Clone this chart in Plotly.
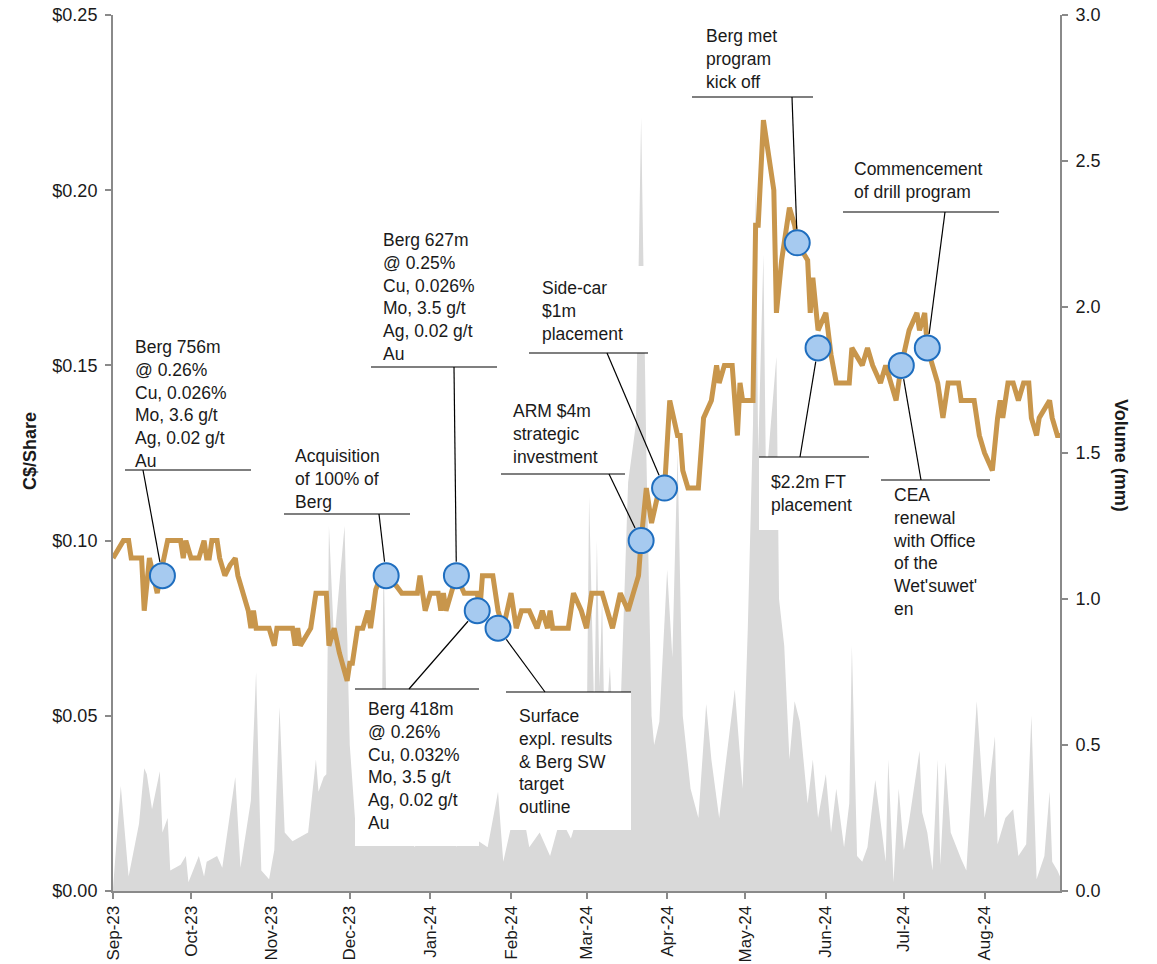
import plotly.graph_objects as go
import pandas as pd

# ---------------- data ----------------
price_dates = [
    "2023-09-01", "2023-09-05", "2023-09-07", "2023-09-08", "2023-09-12", "2023-09-13", "2023-09-15",
    "2023-09-18", "2023-09-20", "2023-09-22", "2023-09-27", "2023-09-28", "2023-09-29", "2023-10-01",
    "2023-10-04", "2023-10-06", "2023-10-07", "2023-10-08", "2023-10-09", "2023-10-11", "2023-10-12",
    "2023-10-14", "2023-10-16", "2023-10-18", "2023-10-19", "2023-10-21", "2023-10-23", "2023-10-24",
    "2023-10-25", "2023-10-26", "2023-10-31", "2023-11-02", "2023-11-03", "2023-11-09", "2023-11-10",
    "2023-11-11", "2023-11-12", "2023-11-16", "2023-11-18", "2023-11-22", "2023-11-23", "2023-11-25",
    "2023-11-27", "2023-11-30", "2023-12-01", "2023-12-02", "2023-12-04", "2023-12-06", "2023-12-08",
    "2023-12-09", "2023-12-10", "2023-12-11", "2023-12-13", "2023-12-15", "2023-12-19", "2023-12-21",
    "2023-12-27", "2023-12-28", "2023-12-30", "2024-01-01", "2024-01-04", "2024-01-05", "2024-01-06",
    "2024-01-07", "2024-01-09", "2024-01-11", "2024-01-14", "2024-01-19", "2024-01-20", "2024-01-21",
    "2024-01-25", "2024-01-27", "2024-01-29", "2024-02-01", "2024-02-03", "2024-02-05", "2024-02-08",
    "2024-02-11", "2024-02-13", "2024-02-15", "2024-02-16", "2024-02-17", "2024-02-23", "2024-02-25",
    "2024-02-28", "2024-03-01", "2024-03-03", "2024-03-07", "2024-03-09", "2024-03-11", "2024-03-14",
    "2024-03-17", "2024-03-19", "2024-03-21", "2024-03-22", "2024-03-24", "2024-03-26", "2024-03-29",
    "2024-03-31", "2024-04-02", "2024-04-05", "2024-04-06", "2024-04-07", "2024-04-09", "2024-04-13",
    "2024-04-15", "2024-04-18", "2024-04-20", "2024-04-21", "2024-04-23", "2024-04-26", "2024-04-28",
    "2024-04-29", "2024-04-30", "2024-05-04", "2024-05-05", "2024-05-06", "2024-05-08", "2024-05-12",
    "2024-05-13", "2024-05-15", "2024-05-18", "2024-05-20", "2024-05-21", "2024-05-25", "2024-05-26",
    "2024-05-27", "2024-05-29", "2024-06-01", "2024-06-03", "2024-06-05", "2024-06-10", "2024-06-11",
    "2024-06-15", "2024-06-17", "2024-06-19", "2024-06-22", "2024-06-24", "2024-06-28", "2024-06-30",
    "2024-07-03", "2024-07-06", "2024-07-07", "2024-07-09", "2024-07-10", "2024-07-12", "2024-07-14",
    "2024-07-16", "2024-07-18", "2024-07-22", "2024-07-23", "2024-07-28", "2024-07-30", "2024-08-01",
    "2024-08-04", "2024-08-06", "2024-08-07", "2024-08-08", "2024-08-10", "2024-08-12", "2024-08-14",
    "2024-08-16", "2024-08-18", "2024-08-19", "2024-08-21", "2024-08-22", "2024-08-26", "2024-08-27",
    "2024-08-29", "2024-08-30",
]
price_vals = [
    0.095, 0.100, 0.100, 0.095, 0.095, 0.080, 0.095,
    0.085, 0.093, 0.100, 0.100, 0.095, 0.100, 0.095,
    0.095, 0.100, 0.095, 0.095, 0.100, 0.100, 0.095,
    0.090, 0.093, 0.095, 0.090, 0.085, 0.080, 0.075,
    0.080, 0.075, 0.075, 0.070, 0.075, 0.075, 0.070,
    0.075, 0.070, 0.075, 0.085, 0.085, 0.070, 0.075,
    0.068, 0.060, 0.065, 0.065, 0.075, 0.075, 0.080,
    0.075, 0.080, 0.086, 0.090, 0.090, 0.087, 0.085,
    0.085, 0.090, 0.080, 0.085, 0.085, 0.080, 0.085,
    0.080, 0.085, 0.090, 0.085, 0.085, 0.080, 0.090,
    0.090, 0.080, 0.075, 0.085, 0.075, 0.080, 0.080,
    0.075, 0.080, 0.075, 0.080, 0.075, 0.075, 0.085,
    0.080, 0.075, 0.085, 0.085, 0.080, 0.075, 0.085,
    0.080, 0.085, 0.090, 0.100, 0.115, 0.105, 0.115,
    0.115, 0.140, 0.130, 0.130, 0.120, 0.115, 0.115,
    0.135, 0.140, 0.150, 0.145, 0.150, 0.150, 0.130,
    0.145, 0.140, 0.140, 0.190, 0.190, 0.220, 0.200,
    0.165, 0.180, 0.195, 0.190, 0.185, 0.180, 0.165,
    0.175, 0.160, 0.165, 0.153, 0.145, 0.145, 0.155,
    0.150, 0.155, 0.150, 0.145, 0.150, 0.140, 0.150,
    0.160, 0.165, 0.160, 0.165, 0.155, 0.150, 0.145,
    0.135, 0.145, 0.145, 0.140, 0.140, 0.130, 0.125,
    0.120, 0.135, 0.140, 0.135, 0.145, 0.145, 0.140,
    0.145, 0.145, 0.135, 0.130, 0.135, 0.140, 0.135,
    0.130, 0.130,
]

vol_dates = [
    "2023-09-01", "2023-09-04", "2023-09-07", "2023-09-09", "2023-09-11", "2023-09-13", "2023-09-14",
    "2023-09-16", "2023-09-19", "2023-09-20", "2023-09-22", "2023-09-23", "2023-09-27", "2023-09-29",
    "2023-09-30", "2023-10-04", "2023-10-06", "2023-10-07", "2023-10-11", "2023-10-13", "2023-10-18",
    "2023-10-20", "2023-10-24", "2023-10-26", "2023-10-28", "2023-10-31", "2023-11-02", "2023-11-04",
    "2023-11-06", "2023-11-09", "2023-11-15", "2023-11-18", "2023-11-19", "2023-11-21", "2023-11-22",
    "2023-11-23", "2023-11-25", "2023-11-29", "2023-12-01", "2023-12-03", "2023-12-06", "2023-12-09",
    "2023-12-13", "2023-12-14", "2023-12-16", "2023-12-18", "2023-12-22", "2023-12-26", "2023-12-30",
    "2024-01-03", "2024-01-07", "2024-01-11", "2024-01-14", "2024-01-18", "2024-01-23", "2024-01-27",
    "2024-01-29", "2024-02-01", "2024-02-05", "2024-02-08", "2024-02-12", "2024-02-16", "2024-02-20",
    "2024-02-24", "2024-02-28", "2024-03-01", "2024-03-02", "2024-03-04", "2024-03-05", "2024-03-06",
    "2024-03-07", "2024-03-08", "2024-03-10", "2024-03-12", "2024-03-14", "2024-03-17", "2024-03-20",
    "2024-03-22", "2024-03-24", "2024-03-26", "2024-03-27", "2024-03-29", "2024-04-01", "2024-04-03",
    "2024-04-05", "2024-04-07", "2024-04-10", "2024-04-13", "2024-04-16", "2024-04-18", "2024-04-21",
    "2024-04-23", "2024-04-27", "2024-04-30", "2024-05-02", "2024-05-04", "2024-05-05", "2024-05-06",
    "2024-05-08", "2024-05-09", "2024-05-13", "2024-05-14", "2024-05-16", "2024-05-18", "2024-05-20",
    "2024-05-22", "2024-05-25", "2024-05-27", "2024-05-29", "2024-06-01", "2024-06-03", "2024-06-05",
    "2024-06-08", "2024-06-10", "2024-06-11", "2024-06-13", "2024-06-15", "2024-06-17", "2024-06-20",
    "2024-06-24", "2024-06-25", "2024-06-27", "2024-06-29", "2024-07-01", "2024-07-03", "2024-07-07",
    "2024-07-08", "2024-07-10", "2024-07-12", "2024-07-14", "2024-07-15", "2024-07-17", "2024-07-19",
    "2024-07-23", "2024-07-25", "2024-07-29", "2024-08-01", "2024-08-02", "2024-08-05", "2024-08-06",
    "2024-08-09", "2024-08-12", "2024-08-14", "2024-08-17", "2024-08-19", "2024-08-21", "2024-08-24",
    "2024-08-26", "2024-08-27", "2024-08-29", "2024-08-30",
]
vol_vals = [
    0.01, 0.36, 0.05, 0.14, 0.23, 0.42, 0.40,
    0.28, 0.41, 0.20, 0.25, 0.07, 0.09, 0.12,
    0.03, 0.12, 0.05, 0.10, 0.12, 0.08, 0.39,
    0.08, 0.31, 0.75, 0.07, 0.04, 0.14, 0.63,
    0.20, 0.17, 0.20, 0.45, 0.34, 0.39, 0.40,
    1.25, 0.85, 1.25, 0.50, 0.25, 0.20, 0.30,
    0.25, 1.15, 0.20, 0.30, 0.22, 0.15, 0.25,
    0.18, 0.30, 0.15, 0.35, 0.18, 0.15, 0.34,
    0.10, 0.22, 0.30, 0.15, 0.20, 0.12, 0.25,
    0.18, 0.30, 0.45, 1.35, 0.60, 1.20, 0.70,
    1.00, 0.50, 0.77, 0.40, 0.60, 1.40, 1.60,
    2.65, 1.50, 0.60, 0.50, 0.58, 1.10, 0.80,
    1.50, 0.60, 0.35, 0.25, 0.64, 0.45, 0.25,
    0.40, 0.69, 0.35, 0.90, 1.60, 2.42, 1.50,
    2.18, 1.40, 1.83, 1.00, 0.84, 0.45, 0.65,
    0.58, 0.30, 0.45, 0.25, 0.40, 0.20, 0.35,
    0.15, 0.30, 0.84, 0.12, 0.10, 0.15, 0.38,
    0.10, 0.45, 0.03, 0.35, 0.14, 0.24, 0.48,
    0.27, 0.20, 0.07, 0.45, 0.09, 0.44, 0.20,
    0.11, 0.07, 0.65, 0.25, 0.30, 0.53, 0.16,
    0.25, 0.28, 0.12, 0.16, 0.60, 0.04, 0.12,
    0.34, 0.10, 0.07, 0.05,
]

event_dates = ["2023-09-20", "2023-12-15", "2024-01-11", "2024-01-19", "2024-01-27", "2024-03-22",
               "2024-03-31", "2024-05-21", "2024-05-29", "2024-06-30", "2024-07-10"]
event_prices = [0.090, 0.090, 0.090, 0.080, 0.075, 0.100, 0.115, 0.185, 0.155, 0.150, 0.155]
event_labels = [
    "Berg 756m<br>@ 0.26%<br>Cu, 0.026%<br>Mo, 3.6 g/t<br>Ag, 0.02 g/t<br>Au",
    "Acquisition<br>of 100% of<br>Berg",
    "Berg 627m<br>@ 0.25%<br>Cu, 0.026%<br>Mo, 3.5 g/t<br>Ag, 0.02 g/t<br>Au",
    "Berg 418m<br>@ 0.26%<br>Cu, 0.032%<br>Mo, 3.5 g/t<br>Ag, 0.02 g/t<br>Au",
    "Surface<br>expl. results<br>&amp; Berg SW<br>target<br>outline",
    "ARM $4m<br>strategic<br>investment",
    "Side-car<br>$1m<br>placement",
    "Berg met<br>program<br>kick off",
    "$2.2m FT<br>placement",
    "CEA<br>renewal<br>with Office<br>of the<br>Wet'suwet'<br>en",
    "Commencement<br>of drill program",
]

price_ticks = [0.00, 0.05, 0.10, 0.15, 0.20, 0.25]
price_tick_text = ["$0.00", "$0.05", "$0.10", "$0.15", "$0.20", "$0.25"]
vol_ticks = [0.0, 0.5, 1.0, 1.5, 2.0, 2.5, 3.0]
vol_tick_text = ["0.0", "0.5", "1.0", "1.5", "2.0", "2.5", "3.0"]

# ---------------- layout geometry (pixels) ----------------
W, H = 1157, 964
PL, PR, PT, PB = 113, 1060, 15, 891   # plot area
PW, PH = PR - PL, PB - PT
X0, X1 = pd.Timestamp("2023-09-01"), pd.Timestamp("2024-08-30")
PRICE_MAX, VOL_MAX = 0.25, 3.0

# callout layout: text left, first line centre, rule x0, rule x1, rule y, leader x, box y0, box y1
callouts = [
    (133, 347, 125, 251, 470, 143, 333, 470),
    (293, 456, 284, 410, 514, 379, 442, 514),
    (381, 240, 371, 497, 367, 454, 226, 367),
    (366, 709, 355, 479, 689, 409, 689, 846),
    (517, 716, 506, 631, 692, 545, 692, 830),
    (511, 411, 501, 625, 474, 609, 398, 474),
    (540, 288, 529, 648, 353, 607, 266, 353),
    (704, 36, 692, 813, 97, 792, 22, 97),
    (769, 482, 759, 869, 457, 800, 457, 530),
    (891, 495, 881, 990, 480, 921, 480, 620),
    (852, 169, 843, 999, 212, 945, 155, 212),
]


def xp(px):
    return (px - PL) / PW


def yp(py):
    return (PB - py) / PH


def date_px(d):
    return PL + (pd.Timestamp(d) - X0) / (X1 - X0) * PW


def price_py(p):
    return PB - p / PRICE_MAX * PH


GOLD = "#C8964C"
FONT = "Liberation Sans, Arial, sans-serif"
TXT = "#1a1a1a"
AX = "#8a8a8a"
FS = 17.5

fig = go.Figure()

fig.add_trace(go.Scatter(
    x=vol_dates, y=vol_vals, mode="lines", yaxis="y",
    line=dict(width=0, color="#D9D9D9"), fill="tozeroy", fillcolor="#D9D9D9",
    hoverinfo="skip", showlegend=False,
))
fig.add_trace(go.Scatter(
    x=price_dates, y=price_vals, mode="lines", yaxis="y2",
    line=dict(color=GOLD, width=5), showlegend=False,
))
fig.add_trace(go.Scatter(
    x=event_dates, y=event_prices, mode="markers", yaxis="y2",
    marker=dict(size=25, color="#A6CAF0", line=dict(color="#1F6EBF", width=2)),
    showlegend=False,
))

shapes = []
annotations = []
R = 14  # marker radius in px
for (tx, ty, rx0, rx1, ry, lx, by0, by1), d, p, lab in zip(callouts, event_dates, event_prices, event_labels):
    shapes.append(dict(type="rect", xref="paper", yref="paper",
                       x0=xp(rx0), x1=xp(rx1), y0=yp(by0), y1=yp(by1),
                       fillcolor="white", line=dict(width=0), layer="above"))
    shapes.append(dict(type="line", xref="paper", yref="paper",
                       x0=xp(rx0), x1=xp(rx1), y0=yp(ry), y1=yp(ry),
                       line=dict(color="black", width=1.2), layer="above"))
    mx, my = date_px(d), price_py(p)
    dx, dy = lx - mx, ry - my
    dist = (dx * dx + dy * dy) ** 0.5
    ex, ey = mx + dx / dist * R, my + dy / dist * R
    shapes.append(dict(type="line", xref="paper", yref="paper",
                       x0=xp(lx), y0=yp(ry), x1=xp(ex), y1=yp(ey),
                       line=dict(color="black", width=1.2), layer="above"))
    annotations.append(dict(
        text=lab, xref="paper", yref="paper", x=xp(tx), y=yp(ty - 12),
        xanchor="left", yanchor="top", align="left", showarrow=False,
        font=dict(family=FONT, size=FS, color=TXT),
    ))

annotations.append(dict(text="<b>C$/Share</b>", xref="paper", yref="paper",
                        x=xp(30), y=yp(451), xanchor="center", yanchor="middle",
                        textangle=-90, showarrow=False,
                        font=dict(family=FONT, size=18, color=TXT)))
annotations.append(dict(text="<b>Volume (mm)</b>", xref="paper", yref="paper",
                        x=xp(1121), y=yp(455), xanchor="center", yanchor="middle",
                        textangle=90, showarrow=False,
                        font=dict(family=FONT, size=18, color=TXT)))

axis_common = dict(
    ticks="outside", ticklen=6, tickcolor=AX, tickwidth=1.5, automargin=False,
    showline=True, linecolor=AX, linewidth=2, showgrid=False, zeroline=False,
    ticklabeloverflow="allow",
)

fig.update_layout(
    width=W, height=H,
    margin=dict(l=PL, r=W - PR, t=PT, b=H - PB),
    plot_bgcolor="white", paper_bgcolor="white",
    showlegend=False,
    shapes=shapes, annotations=annotations,
    xaxis=dict(
        type="date", range=[X0, X1], tick0="2023-09-01", dtick="M1", tickformat="%b-%y",
        tickangle=-90, ticklabelstandoff=0, tickfont=dict(family=FONT, size=17, color=TXT),
        **axis_common,
    ),
    yaxis=dict(
        range=[0, VOL_MAX], tickmode="array", tickvals=vol_ticks, ticktext=vol_tick_text,
        side="right", ticklabelstandoff=4, tickfont=dict(family=FONT, size=18, color=TXT),
        **axis_common,
    ),
    yaxis2=dict(
        range=[0, PRICE_MAX], tickmode="array", tickvals=price_ticks, ticktext=price_tick_text,
        side="left", overlaying="y", ticklabelstandoff=4,
        tickfont=dict(family=FONT, size=18, color=TXT),
        **axis_common,
    ),
)

fig.write_html(
    "out.html",
    config={"displayModeBar": False},
    post_script="document.body.style.margin='0';document.body.style.overflow='hidden';",
)
